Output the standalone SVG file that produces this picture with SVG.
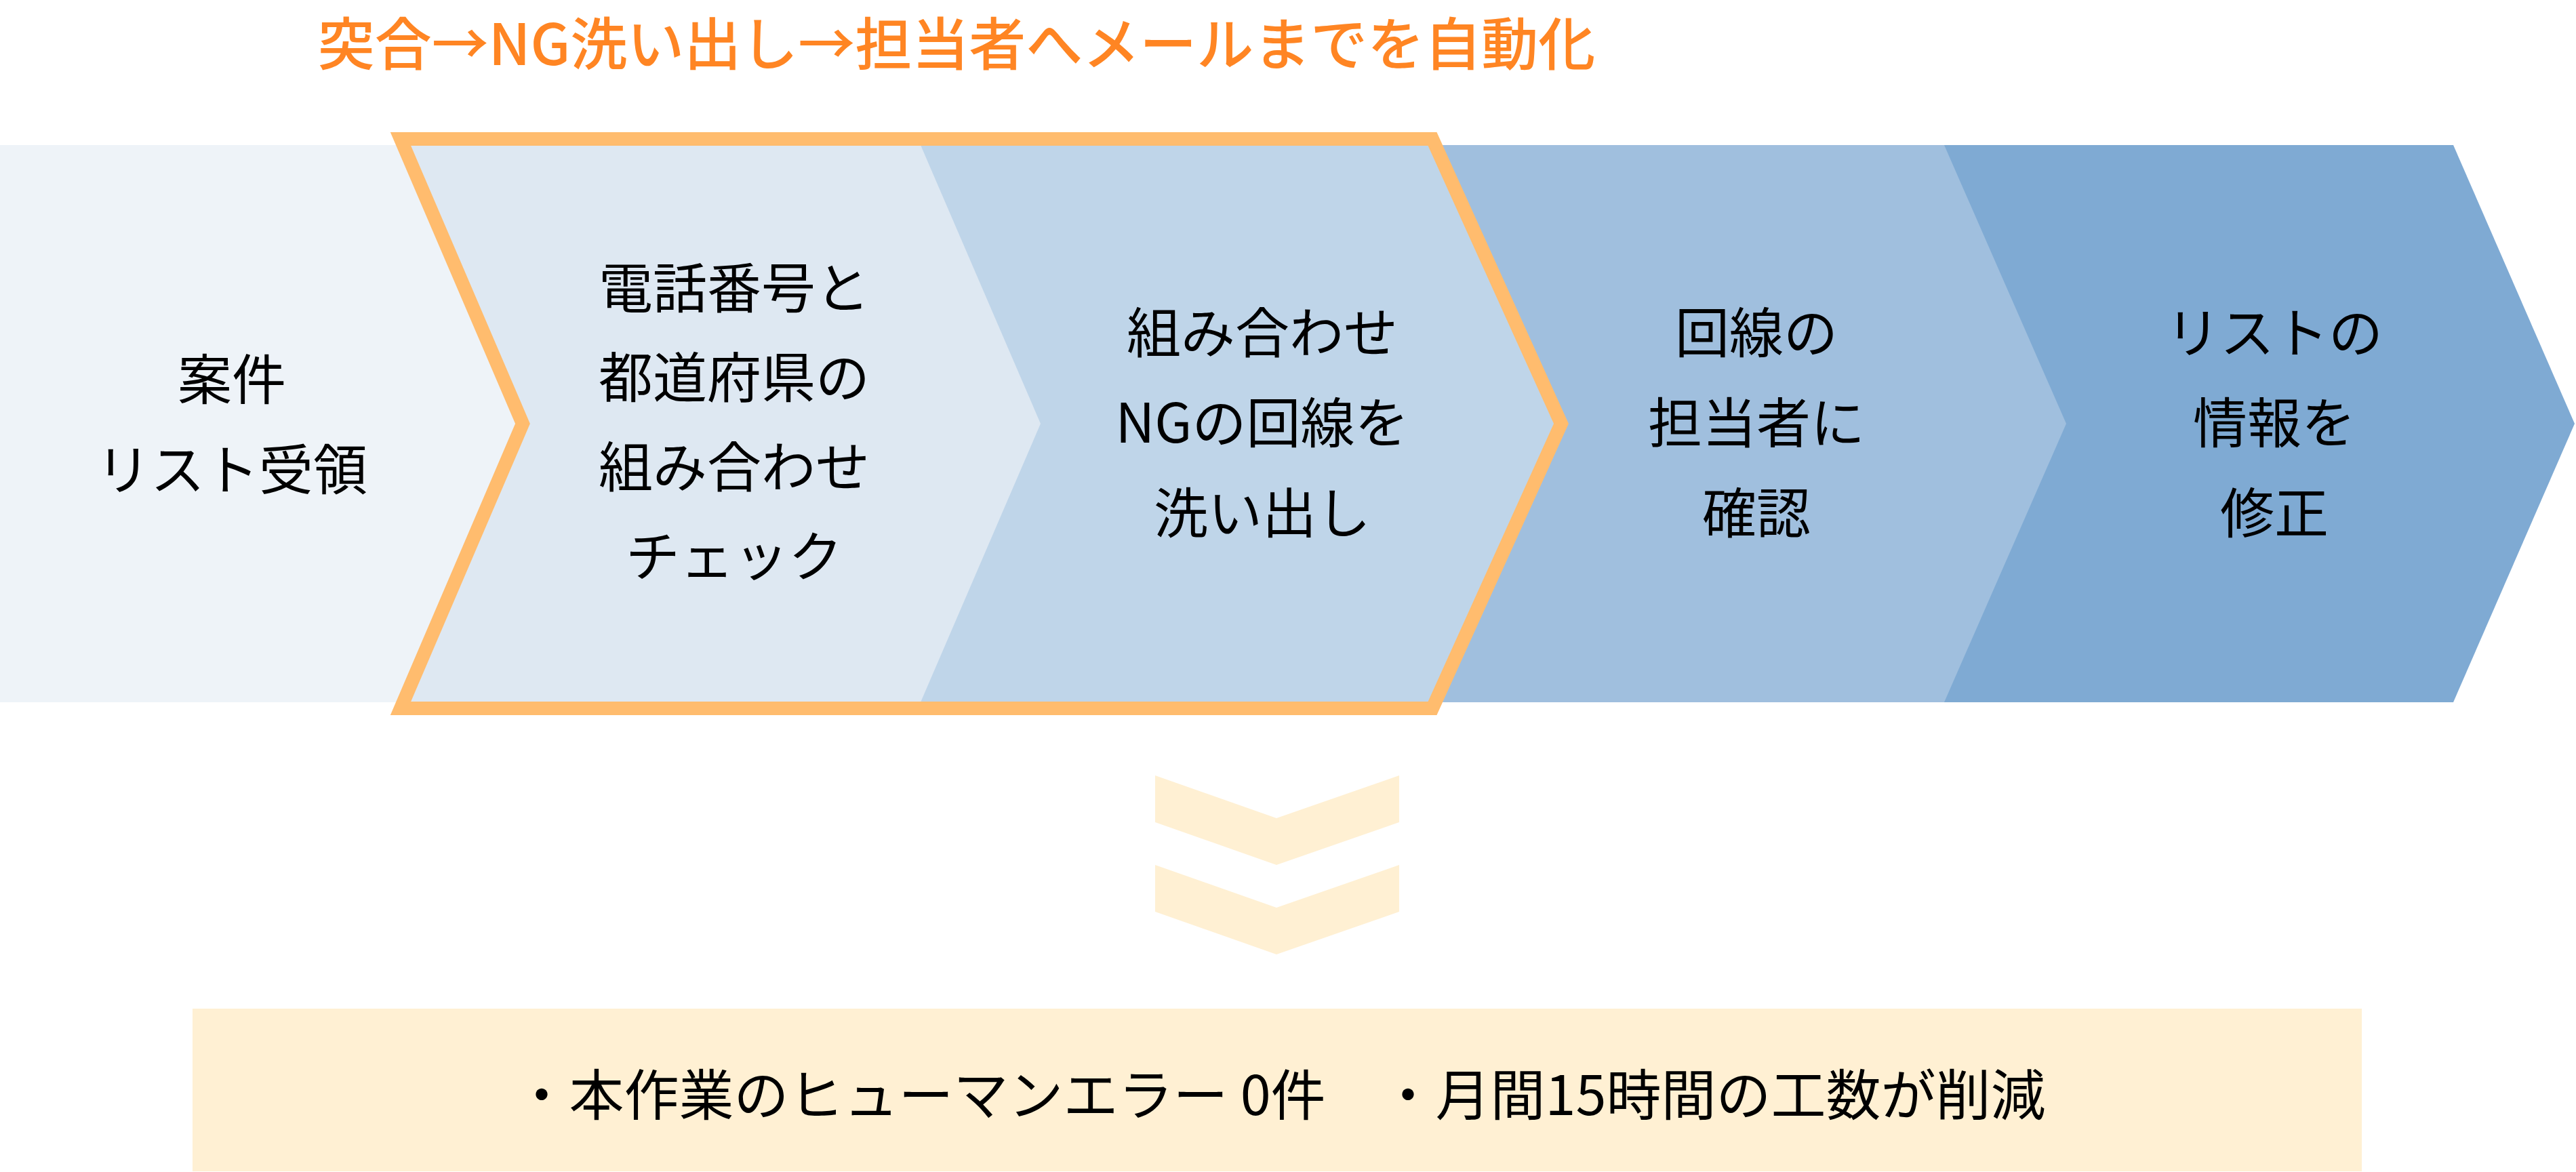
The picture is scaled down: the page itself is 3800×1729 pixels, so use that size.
<svg xmlns="http://www.w3.org/2000/svg" width="3800" height="1729" viewBox="0 0 3800 1729">
  <style>
    .lbl { font-family: "Noto Sans CJK JP", "Noto Sans", sans-serif; font-size: 80px; fill: #000000; text-anchor: middle; }
    .res { font-size: 81px; }
    .title { font-family: "Noto Sans CJK JP", "Noto Sans", sans-serif; font-size: 84px; font-weight: 500; fill: #FF8523; text-anchor: middle; }
    .down { fill: #FFF0D3; }
  </style>
  <rect x="0" y="0" width="3800" height="1729" fill="#FFFFFF"/>

  <text class="title" x="1411" y="96">突合→NG洗い出し→担当者へメールまでを自動化</text>

  <g id="step5">
    <polygon points="2850,214 3619,214 3798,625 3619,1036 2850,1036" fill="#7FAAD3"/>
    <text class="lbl" x="3355" y="520">リストの</text>
    <text class="lbl" x="3355" y="653">情報を</text>
    <text class="lbl" x="3355" y="786">修正</text>
  </g>
  <g id="step4">
    <polygon points="2100,214 2868,214 3048,625 2868,1036 2100,1036" fill="#A0BFDE"/>
    <text class="lbl" x="2591" y="520">回線の</text>
    <text class="lbl" x="2591" y="653">担当者に</text>
    <text class="lbl" x="2591" y="786">確認</text>
  </g>
  <g id="step3">
    <polygon points="1340,214 2114,214 2297,625 2114,1036 1340,1036" fill="#BFD5E9"/>
    <text class="lbl" x="1862" y="520">組み合わせ</text>
    <text class="lbl" x="1862" y="653">NGの回線を</text>
    <text class="lbl" x="1862" y="786">洗い出し</text>
  </g>
  <g id="step2">
    <polygon points="580,214 1358,214 1535,625 1358,1036 580,1036" fill="#DEE8F2"/>
    <text class="lbl" x="1083" y="454">電話番号と</text>
    <text class="lbl" x="1083" y="586">都道府県の</text>
    <text class="lbl" x="1083" y="718">組み合わせ</text>
    <text class="lbl" x="1083" y="850">チェック</text>
  </g>
  <g id="step1">
    <polygon points="0,214 590,214 771,625 590,1036 0,1036" fill="#EEF3F8"/>
    <text class="lbl" x="342" y="589">案件</text>
    <text class="lbl" x="342" y="722">リスト受領</text>
  </g>

  <g id="automation-frame">
    <polygon points="591,205 2113,205 2303,625 2113,1045 591,1045 771,625" fill="none" stroke="#FFBC6E" stroke-width="20" stroke-linejoin="miter" stroke-miterlimit="10"/>
  </g>

  <g id="connectors">
    <polygon class="down" points="1704,1144 1883,1207 2064,1144 2064,1213 1883,1276 1704,1213"/>
    <polygon class="down" points="1704,1276 1883,1339 2064,1276 2064,1345 1883,1408 1704,1345"/>
  </g>

  <g id="result">
    <rect x="284" y="1488" width="3200" height="240" fill="#FFF0D3"/>
    <text class="lbl res" x="1888" y="1645">・本作業のヒューマンエラー 0件　・月間15時間の工数が削減</text>
  </g>
</svg>
